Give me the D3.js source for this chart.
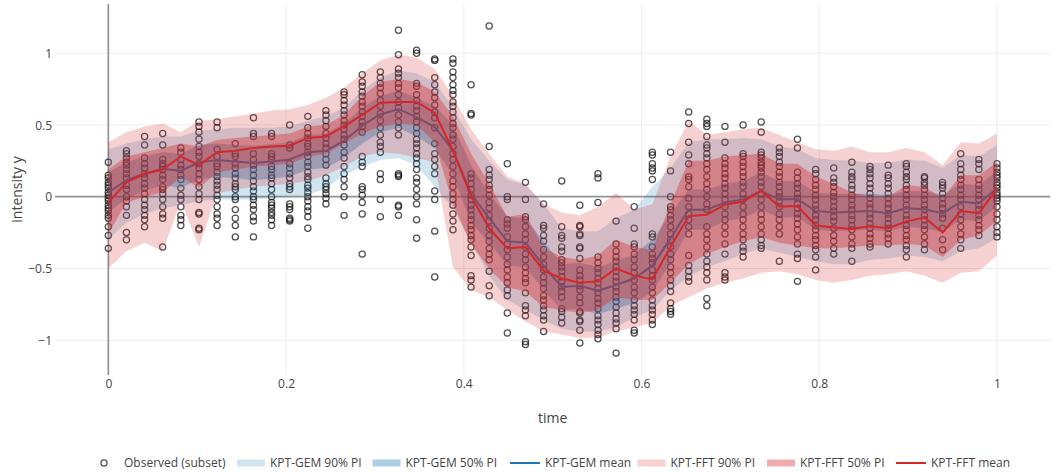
<!DOCTYPE html>
<html>
<head>
<meta charset="utf-8">
<script src="https://cdn.jsdelivr.net/npm/d3@7"></script>
<style>
  body { margin: 0; background: #fff; }
  svg { display: block; font-family: "Open Sans", sans-serif; }
</style>
</head>
<body>
<svg id="chart" width="1052" height="472"></svg>
<script>
// ---- data -------------------------------------------------------------
const timeGrid = [0, 0.0204, 0.0408, 0.0612, 0.0816, 0.1020, 0.1224, 0.1429, 0.1633, 0.1837,
  0.2041, 0.2245, 0.2449, 0.2653, 0.2857, 0.3061, 0.3265, 0.3469, 0.3673, 0.3878,
  0.4082, 0.4286, 0.4490, 0.4694, 0.4898, 0.5102, 0.5306, 0.5510, 0.5714, 0.5918,
  0.6122, 0.6327, 0.6531, 0.6735, 0.6939, 0.7143, 0.7347, 0.7551, 0.7755, 0.7959,
  0.8163, 0.8367, 0.8571, 0.8776, 0.8980, 0.9184, 0.9388, 0.9592, 0.9796, 1];

const gemMean = [0.03, 0.115, 0.16, 0.195, 0.18, 0.24, 0.255, 0.245, 0.235, 0.245,
  0.26, 0.31, 0.32, 0.39, 0.495, 0.575, 0.61, 0.555, 0.485, 0.325,
  0.02, -0.15, -0.31, -0.32, -0.48, -0.63, -0.62, -0.655, -0.615, -0.57,
  -0.48, -0.29, -0.09, -0.09, -0.04, -0.02, 0.04, -0.02, -0.016, -0.10,
  -0.11, -0.105, -0.10, -0.115, -0.08, -0.088, -0.116, -0.035, -0.046, 0.058];
const gemLo90 = [-0.30, -0.18, -0.12, -0.08, -0.06, -0.03, -0.02, -0.02, -0.02, -0.01,
  0.0, 0.01, 0.06, 0.15, 0.21, 0.255, 0.27, 0.22, 0.07, -0.08,
  -0.32, -0.55, -0.72, -0.79, -0.86, -0.92, -0.94, -0.94, -0.91, -0.84,
  -0.79, -0.65, -0.56, -0.49, -0.45, -0.40, -0.36, -0.39, -0.42, -0.45,
  -0.47, -0.47, -0.44, -0.43, -0.41, -0.42, -0.45, -0.38, -0.36, -0.29];
const gemHi90 = [0.33, 0.37, 0.40, 0.42, 0.42, 0.46, 0.47, 0.48, 0.48, 0.48,
  0.49, 0.53, 0.56, 0.62, 0.74, 0.83, 0.88, 0.86, 0.80, 0.62,
  0.40, 0.25, 0.12, 0.08, -0.05, -0.22, -0.24, -0.24, -0.15, -0.09,
  0.07, 0.20, 0.38, 0.40, 0.40, 0.41, 0.40, 0.35, 0.33, 0.27,
  0.255, 0.25, 0.235, 0.235, 0.26, 0.25, 0.20, 0.29, 0.28, 0.36];
const gemLo50 = [-0.11, -0.01, 0.04, 0.08, 0.06, 0.12, 0.135, 0.13, 0.115, 0.125,
  0.14, 0.19, 0.20, 0.27, 0.37, 0.45, 0.48, 0.42, 0.34, 0.15,
  -0.18, -0.32, -0.48, -0.49, -0.65, -0.79, -0.78, -0.82, -0.78, -0.74,
  -0.66, -0.46, -0.23, -0.23, -0.17, -0.15, -0.09, -0.15, -0.14, -0.23,
  -0.24, -0.235, -0.23, -0.245, -0.21, -0.22, -0.245, -0.16, -0.17, -0.07];
const gemHi50 = [0.17, 0.24, 0.28, 0.31, 0.30, 0.36, 0.37, 0.36, 0.355, 0.365,
  0.38, 0.43, 0.44, 0.51, 0.62, 0.70, 0.74, 0.69, 0.63, 0.50,
  0.22, 0.02, -0.14, -0.15, -0.31, -0.47, -0.46, -0.49, -0.45, -0.40,
  -0.30, -0.12, 0.05, 0.05, 0.09, 0.11, 0.17, 0.11, 0.11, 0.03,
  0.02, 0.02, 0.02, 0.01, 0.04, 0.04, 0.01, 0.09, 0.08, 0.18];

const fftMean = [-0.04, 0.10, 0.16, 0.19, 0.28, 0.22, 0.31, 0.32, 0.34, 0.35,
  0.355, 0.41, 0.42, 0.49, 0.57, 0.655, 0.66, 0.66, 0.585, 0.32,
  0.005, -0.22, -0.36, -0.35, -0.515, -0.57, -0.60, -0.59, -0.50, -0.55,
  -0.576, -0.35, -0.135, -0.125, -0.055, -0.035, 0.04, -0.068, -0.065, -0.20,
  -0.215, -0.225, -0.205, -0.22, -0.172, -0.145, -0.25, -0.10, -0.115, 0.055];
const fftLo90 = [-0.50, -0.38, -0.32, -0.38, -0.03, -0.35, 0.02, 0.05, 0.07, 0.08,
  0.09, 0.11, 0.15, 0.21, 0.28, 0.31, 0.30, 0.27, 0.24, -0.49,
  -0.65, -0.70, -0.79, -0.87, -0.94, -0.96, -0.985, -0.98, -0.94, -0.91,
  -0.88, -0.76, -0.70, -0.64, -0.60, -0.57, -0.53, -0.52, -0.54, -0.58,
  -0.60, -0.58, -0.55, -0.54, -0.52, -0.55, -0.60, -0.53, -0.52, -0.41];
const fftHi90 = [0.38, 0.45, 0.49, 0.51, 0.45, 0.53, 0.54, 0.56, 0.58, 0.60,
  0.61, 0.64, 0.69, 0.76, 0.86, 0.95, 0.99, 0.97, 0.89, 0.70,
  0.47, 0.30, 0.14, 0.09, -0.05, -0.11, -0.13, -0.07, 0.025, -0.09,
  -0.05, 0.28, 0.53, 0.43, 0.45, 0.47, 0.48, 0.43, 0.38, 0.33,
  0.32, 0.35, 0.31, 0.31, 0.34, 0.31, 0.22, 0.38, 0.37, 0.44];
const fftLo50 = [-0.26, -0.04, 0.0, 0.03, 0.14, 0.06, 0.17, 0.19, 0.21, 0.22,
  0.23, 0.28, 0.30, 0.37, 0.44, 0.49, 0.51, 0.50, 0.38, -0.05,
  -0.33, -0.50, -0.63, -0.66, -0.77, -0.79, -0.81, -0.79, -0.70, -0.72,
  -0.72, -0.60, -0.47, -0.40, -0.35, -0.31, -0.28, -0.32, -0.34, -0.36,
  -0.36, -0.35, -0.34, -0.34, -0.33, -0.34, -0.42, -0.30, -0.27, -0.17];
const fftHi50 = [0.19, 0.28, 0.31, 0.34, 0.37, 0.35, 0.395, 0.41, 0.42, 0.43,
  0.44, 0.49, 0.50, 0.57, 0.70, 0.80, 0.82, 0.80, 0.73, 0.56,
  0.30, 0.09, -0.14, -0.12, -0.36, -0.42, -0.44, -0.41, -0.30, -0.35,
  -0.37, -0.05, 0.25, 0.25, 0.28, 0.29, 0.30, 0.23, 0.23, 0.14,
  0.09, 0.03, 0.0, 0.0, 0.08, 0.07, -0.01, 0.15, 0.15, 0.24];

// observed intensities, one list per time point of timeGrid
const observedY = [
  [0.24, 0.15, 0.13, 0.10, 0.08, 0.06, 0.03, 0.01, -0.01, -0.03, -0.06, -0.08, -0.10, -0.13, -0.15, -0.21, -0.27, -0.36],
  [0.32, 0.30, 0.27, 0.24, 0.22, 0.19, 0.16, 0.13, 0.08, 0.05, 0.0, -0.03, -0.07, -0.13, -0.25, -0.30],
  [0.42, 0.36, 0.27, 0.23, 0.20, 0.16, 0.13, 0.09, 0.06, 0.02, -0.02, -0.06, -0.09, -0.13, -0.16, -0.21],
  [0.44, 0.36, 0.26, 0.23, 0.21, 0.19, 0.15, 0.12, 0.07, 0.05, 0.02, -0.02, -0.07, -0.12, -0.15, -0.35],
  [0.34, 0.31, 0.26, 0.22, 0.19, 0.15, 0.12, 0.06, 0.01, -0.02, -0.07, -0.13, -0.16, -0.20],
  [0.52, 0.49, 0.45, 0.40, 0.35, 0.31, 0.28, 0.23, 0.20, 0.16, 0.12, 0.07, 0.02, -0.02, -0.11, -0.12, -0.22, -0.23],
  [0.52, 0.48, 0.33, 0.28, 0.23, 0.21, 0.17, 0.14, 0.11, 0.08, 0.05, 0.01, -0.02, -0.07, -0.12, -0.15, -0.20],
  [0.37, 0.30, 0.28, 0.23, 0.20, 0.16, 0.13, 0.09, 0.07, 0.05, 0.0, -0.02, -0.09, -0.15, -0.20, -0.28],
  [0.55, 0.44, 0.42, 0.30, 0.26, 0.22, 0.19, 0.15, 0.11, 0.07, 0.04, 0.0, -0.02, -0.06, -0.09, -0.14, -0.17, -0.28],
  [0.44, 0.42, 0.30, 0.28, 0.26, 0.21, 0.19, 0.15, 0.13, 0.09, 0.05, 0.0, -0.04, -0.06, -0.08, -0.11, -0.13, -0.16, -0.20],
  [0.50, 0.36, 0.34, 0.23, 0.20, 0.16, 0.13, 0.09, 0.07, 0.05, -0.05, -0.07, -0.09, -0.15, -0.16, -0.17],
  [0.56, 0.48, 0.44, 0.41, 0.37, 0.35, 0.31, 0.28, 0.24, 0.21, 0.17, 0.14, 0.12, 0.08, 0.06, 0.03, 0.0, -0.03, -0.07, -0.10, -0.14, -0.22],
  [0.60, 0.57, 0.53, 0.49, 0.44, 0.41, 0.37, 0.34, 0.30, 0.26, 0.22, 0.13, 0.09, 0.07, 0.05, 0.02, -0.01, -0.05],
  [0.73, 0.71, 0.67, 0.64, 0.60, 0.57, 0.53, 0.50, 0.47, 0.43, 0.40, 0.36, 0.31, 0.27, 0.21, 0.16, 0.12, 0.07, 0.0, -0.13],
  [0.85, 0.80, 0.77, 0.73, 0.70, 0.66, 0.63, 0.59, 0.56, 0.52, 0.49, 0.45, 0.28, 0.24, 0.21, 0.07, 0.05, 0.01, -0.04, -0.12, -0.40],
  [0.87, 0.83, 0.79, 0.76, 0.72, 0.67, 0.63, 0.58, 0.53, 0.48, 0.43, 0.38, 0.35, 0.31, 0.16, 0.12, -0.02, -0.14],
  [1.16, 0.99, 0.89, 0.86, 0.83, 0.79, 0.76, 0.71, 0.66, 0.62, 0.57, 0.52, 0.48, 0.43, 0.16, 0.15, 0.14, -0.06, -0.07, -0.13],
  [1.02, 1.0, 0.79, 0.77, 0.71, 0.67, 0.63, 0.60, 0.56, 0.52, 0.48, 0.44, 0.40, 0.37, 0.34, 0.30, 0.27, 0.23, 0.19, 0.13, 0.10, 0.05, 0.0, -0.05, -0.16, -0.29],
  [0.96, 0.95, 0.83, 0.78, 0.73, 0.69, 0.64, 0.59, 0.55, 0.48, 0.37, 0.30, 0.26, 0.21, 0.16, 0.04, -0.02, -0.24, -0.56],
  [0.96, 0.93, 0.87, 0.83, 0.78, 0.74, 0.71, 0.66, 0.63, 0.59, 0.55, 0.51, 0.48, 0.43, 0.40, 0.35, 0.30, 0.26, 0.21, 0.16, 0.11, 0.07, 0.02, -0.02, -0.06, -0.12, -0.17, -0.23],
  [0.78, 0.58, 0.57, 0.16, 0.13, 0.09, 0.05, 0.01, -0.02, -0.06, -0.09, -0.13, -0.16, -0.20, -0.23, -0.27, -0.30, -0.35, -0.41, -0.55, -0.58, -0.63],
  [1.19, 0.35, 0.19, 0.15, 0.12, 0.08, 0.05, 0.01, -0.04, -0.08, -0.13, -0.17, -0.22, -0.27, -0.31, -0.36, -0.40, -0.44, -0.52, -0.62, -0.69],
  [0.23, 0.0, -0.02, -0.16, -0.19, -0.22, -0.28, -0.33, -0.37, -0.42, -0.47, -0.51, -0.56, -0.60, -0.65, -0.69, -0.81, -0.95],
  [0.10, -0.02, -0.14, -0.16, -0.21, -0.26, -0.30, -0.35, -0.40, -0.44, -0.49, -0.53, -0.57, -0.60, -0.67, -0.76, -0.79, -0.83, -1.01, -1.03],
  [-0.05, -0.20, -0.22, -0.27, -0.31, -0.37, -0.42, -0.47, -0.51, -0.56, -0.60, -0.64, -0.69, -0.72, -0.76, -0.79, -0.83, -0.86, -0.94],
  [0.11, -0.21, -0.27, -0.29, -0.35, -0.38, -0.44, -0.46, -0.49, -0.52, -0.56, -0.59, -0.63, -0.66, -0.70, -0.78, -0.80, -0.84, -0.88],
  [-0.06, -0.20, -0.21, -0.26, -0.27, -0.35, -0.36, -0.43, -0.51, -0.55, -0.58, -0.62, -0.65, -0.70, -0.74, -0.80, -0.81, -0.86, -0.87, -0.93, -1.02],
  [0.16, 0.13, -0.04, -0.42, -0.46, -0.50, -0.53, -0.57, -0.60, -0.64, -0.67, -0.71, -0.74, -0.78, -0.83, -0.86, -0.89, -0.93, -0.96, -0.99],
  [-0.17, -0.33, -0.38, -0.42, -0.45, -0.49, -0.52, -0.56, -0.59, -0.63, -0.66, -0.70, -0.73, -0.77, -0.81, -0.85, -0.88, -0.92, -1.09],
  [-0.07, -0.22, -0.33, -0.35, -0.40, -0.44, -0.49, -0.53, -0.58, -0.63, -0.67, -0.72, -0.76, -0.79, -0.82, -0.86, -0.93, -0.95],
  [0.31, 0.29, 0.23, 0.20, 0.18, 0.12, -0.26, -0.28, -0.35, -0.40, -0.43, -0.46, -0.51, -0.55, -0.58, -0.63, -0.67, -0.72, -0.76, -0.79, -0.82, -0.86, -0.89],
  [0.31, 0.18, 0.0, -0.07, -0.09, -0.13, -0.16, -0.21, -0.26, -0.30, -0.35, -0.40, -0.44, -0.49, -0.53, -0.58, -0.62, -0.66, -0.74, -0.78, -0.80, -0.82],
  [0.59, 0.51, 0.38, 0.29, 0.23, 0.14, 0.12, 0.07, -0.01, -0.07, -0.12, -0.16, -0.21, -0.26, -0.41, -0.48, -0.52, -0.56, -0.59],
  [0.54, 0.51, 0.49, 0.42, 0.36, 0.34, 0.30, 0.27, 0.23, 0.19, 0.14, 0.09, 0.05, 0.0, -0.05, -0.09, -0.21, -0.26, -0.30, -0.35, -0.40, -0.45, -0.49, -0.53, -0.58, -0.71, -0.76],
  [0.49, 0.38, 0.27, 0.23, 0.20, 0.16, 0.13, 0.09, 0.06, 0.02, -0.02, -0.07, -0.12, -0.16, -0.21, -0.26, -0.33, -0.40, -0.53, -0.56, -0.58],
  [0.50, 0.30, 0.28, 0.24, 0.21, 0.17, 0.14, 0.10, 0.07, 0.02, -0.02, -0.07, -0.12, -0.16, -0.21, -0.26, -0.30, -0.35, -0.38, -0.42],
  [0.52, 0.45, 0.31, 0.29, 0.27, 0.24, 0.22, 0.20, 0.17, 0.14, 0.10, 0.07, 0.02, -0.02, -0.07, -0.12, -0.16, -0.21, -0.26, -0.30, -0.34, -0.36],
  [0.34, 0.31, 0.28, 0.24, 0.21, 0.17, 0.14, 0.10, 0.07, 0.03, 0.0, -0.03, -0.07, -0.12, -0.16, -0.21, -0.26, -0.45],
  [0.40, 0.34, 0.17, 0.13, 0.09, 0.06, 0.02, -0.01, -0.05, -0.08, -0.12, -0.15, -0.19, -0.23, -0.28, -0.33, -0.40, -0.43, -0.59],
  [0.19, 0.16, 0.12, 0.08, 0.05, 0.01, -0.02, -0.06, -0.09, -0.13, -0.16, -0.20, -0.23, -0.27, -0.30, -0.34, -0.37, -0.42, -0.51],
  [0.20, 0.13, 0.10, 0.07, 0.03, 0.0, -0.03, -0.07, -0.10, -0.14, -0.17, -0.22, -0.27, -0.31, -0.36, -0.40],
  [0.24, 0.17, 0.14, 0.12, 0.08, 0.05, 0.01, -0.02, -0.06, -0.09, -0.13, -0.16, -0.20, -0.23, -0.28, -0.33, -0.36, -0.45],
  [0.21, 0.19, 0.16, 0.13, 0.09, 0.06, 0.02, -0.01, -0.05, -0.08, -0.12, -0.15, -0.19, -0.22, -0.26, -0.29, -0.33, -0.35],
  [0.22, 0.15, 0.13, 0.09, 0.06, 0.02, -0.01, -0.05, -0.08, -0.12, -0.15, -0.19, -0.22, -0.26, -0.29, -0.33],
  [0.23, 0.21, 0.17, 0.14, 0.12, 0.08, 0.05, 0.01, -0.02, -0.06, -0.09, -0.13, -0.16, -0.20, -0.23, -0.27, -0.30, -0.34, -0.37, -0.42],
  [0.14, 0.13, 0.10, 0.08, 0.05, 0.01, -0.02, -0.06, -0.09, -0.13, -0.16, -0.20, -0.23, -0.28, -0.33, -0.37],
  [0.10, 0.08, 0.06, 0.02, -0.01, -0.05, -0.08, -0.12, -0.15, -0.22, -0.30, -0.37],
  [0.30, 0.23, 0.19, 0.15, 0.12, 0.08, 0.05, 0.01, -0.02, -0.07, -0.12, -0.16, -0.21, -0.26, -0.30, -0.36],
  [0.26, 0.23, 0.19, 0.12, 0.08, 0.05, 0.01, -0.02, -0.06, -0.09, -0.13, -0.16, -0.20, -0.23, -0.27],
  [0.23, 0.20, 0.17, 0.15, 0.13, 0.10, 0.08, 0.06, 0.03, 0.01, -0.01, -0.03, -0.07, -0.12, -0.16, -0.21, -0.25, -0.28]
];

const xTickValues = [0, 0.2, 0.4, 0.6, 0.8, 1];
const yTickValues = [-1, -0.5, 0, 0.5, 1];
const xTitle = "time";
const yTitle = "intensity y";
const legendLabels = ["Observed (subset)", "KPT-GEM 90% PI", "KPT-GEM 50% PI", "KPT-GEM mean",
  "KPT-FFT 90% PI", "KPT-FFT 50% PI", "KPT-FFT mean"];

// ---- layout -----------------------------------------------------------
const svg = d3.select("#chart");
const area = { left: 55, right: 1050.3, top: 4, bottom: 375 };
const x = d3.scaleLinear().domain([-0.06, 1.06]).range([area.left, area.right]);
const y = d3.scaleLinear().domain([-1.2425, 1.343]).range([area.bottom, area.top]);

const GEM = "31,119,180", FFT = "214,39,40";
const colors = {
  gem90: `rgba(${GEM},0.2)`, gem50: `rgba(${GEM},0.36)`, gemLine: "rgb(31,119,180)",
  fft90: `rgba(${FFT},0.21)`, fft50: `rgba(${FFT},0.38)`, fftLine: "rgb(214,39,40)"
};
const markerStroke = "rgba(15,15,15,0.72)";

// grid lines
const grid = svg.append("g");
grid.selectAll("line.gx").data(xTickValues.filter(d => d !== 0)).join("line")
  .attr("x1", d => x(d)).attr("x2", d => x(d))
  .attr("y1", area.top).attr("y2", area.bottom)
  .attr("stroke", "#eeeeee").attr("stroke-width", 1);
grid.selectAll("line.gy").data(yTickValues.filter(d => d !== 0)).join("line")
  .attr("x1", area.left).attr("x2", area.right)
  .attr("y1", d => y(d)).attr("y2", d => y(d))
  .attr("stroke", "#eeeeee").attr("stroke-width", 1);

// zero lines
grid.append("line").attr("x1", x(0)).attr("x2", x(0)).attr("y1", area.top).attr("y2", area.bottom)
  .attr("stroke", "#939393").attr("stroke-width", 1.7);
grid.append("line").attr("x1", area.left).attr("x2", area.right).attr("y1", y(0)).attr("y2", y(0))
  .attr("stroke", "#939393").attr("stroke-width", 1.7);

// axis tick labels
const xAxis = d3.axisBottom(x).tickValues(xTickValues).tickSize(0).tickPadding(0)
  .tickFormat(d => d3.format("~g")(d));
svg.append("g").attr("transform", `translate(0,${area.bottom})`).call(xAxis)
  .call(g => g.select(".domain").remove())
  .call(g => g.selectAll("text").attr("y", 12.5).attr("dy", 0)
    .attr("font-family", '"Open Sans", sans-serif').attr("font-size", 12).attr("fill", "#444"));
const yAxis = d3.axisLeft(y).tickValues(yTickValues).tickSize(0).tickPadding(0)
  .tickFormat(d => d3.format("~g")(d).replace("-", "\u2212"));
svg.append("g").attr("transform", `translate(${area.left - 3},0)`).call(yAxis)
  .call(g => g.select(".domain").remove())
  .call(g => g.selectAll("text").attr("x", 0).attr("dy", "0.35em")
    .attr("font-family", '"Open Sans", sans-serif').attr("font-size", 12).attr("fill", "#444"));

// axis titles
svg.append("text").attr("x", (area.left + area.right) / 2).attr("y", 423)
  .attr("text-anchor", "middle").attr("font-size", 14).attr("fill", "#444").text(xTitle);
svg.append("text").attr("transform", `translate(21.5,${(area.top + area.bottom) / 2}) rotate(-90)`)
  .attr("text-anchor", "middle").attr("font-size", 14).attr("fill", "#444").text(yTitle);

// observed points
const points = observedY.flatMap((col, i) => col.map(v => ({ t: timeGrid[i], v })));
svg.append("g").selectAll("circle").data(points).join("circle")
  .attr("cx", d => x(d.t)).attr("cy", d => y(d.v)).attr("r", 3.1)
  .attr("fill", "none").attr("stroke", markerStroke).attr("stroke-width", 1.25);

// prediction bands and means
const idx = d3.range(timeGrid.length);
const band = (lo, hi) => d3.area().x(i => x(timeGrid[i])).y0(i => y(lo[i])).y1(i => y(hi[i]))(idx);
const meanLine = m => d3.line().x(i => x(timeGrid[i])).y(i => y(m[i]))(idx);

svg.append("path").attr("d", band(gemLo90, gemHi90)).attr("fill", colors.gem90);
svg.append("path").attr("d", band(gemLo50, gemHi50)).attr("fill", colors.gem50);
svg.append("path").attr("d", meanLine(gemMean)).attr("fill", "none")
  .attr("stroke", colors.gemLine).attr("stroke-width", 2).attr("stroke-linejoin", "round");
svg.append("path").attr("d", band(fftLo90, fftHi90)).attr("fill", colors.fft90);
svg.append("path").attr("d", band(fftLo50, fftHi50)).attr("fill", colors.fft50);
svg.append("path").attr("d", meanLine(fftMean)).attr("fill", "none")
  .attr("stroke", colors.fftLine).attr("stroke-width", 2).attr("stroke-linejoin", "round");

// legend
const legendX = [84, 230, 365.5, 505, 630.5, 760, 891];
const legendKinds = ["marker", "fill", "fill", "line", "fill", "fill", "line"];
const legendColors = [markerStroke, colors.gem90, colors.gem50, colors.gemLine,
  colors.fft90, colors.fft50, colors.fftLine];
const legendY = 463;
const legend = svg.append("g");
legendLabels.forEach((label, k) => {
  const g = legend.append("g").attr("transform", `translate(${legendX[k]},${legendY})`);
  if (legendKinds[k] === "marker") {
    g.append("circle").attr("cx", 20).attr("cy", 0).attr("r", 3.1)
      .attr("fill", "none").attr("stroke", legendColors[k]).attr("stroke-width", 1.25);
  } else if (legendKinds[k] === "fill") {
    g.append("rect").attr("x", 7).attr("y", -3.5).attr("width", 28).attr("height", 7)
      .attr("fill", legendColors[k]);
  } else {
    g.append("line").attr("x1", 5).attr("x2", 35).attr("y1", 0).attr("y2", 0)
      .attr("stroke", legendColors[k]).attr("stroke-width", 2);
  }
  g.append("text").attr("x", 40).attr("y", 4.2).attr("font-size", 12).attr("fill", "#444").text(label);
});
</script>
</body>
</html>
